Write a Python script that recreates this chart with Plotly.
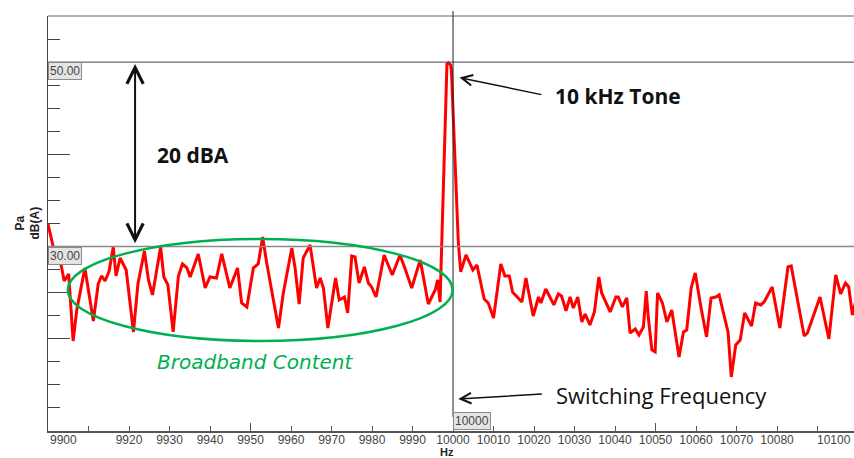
import plotly.graph_objects as go

# ---- data (vertices of the spectrum trace) ----
freq_hz = [9900.0, 9902.2, 9903.0, 9904.0, 9905.1, 9906.2, 9907.1, 9909.1, 9911.2, 9912.4,
           9913.2, 9914.1, 9915.1, 9916.1, 9916.8, 9917.8, 9919.3, 9921.1, 9922.2, 9923.8,
           9924.8, 9925.8, 9927.8, 9928.6, 9929.6, 9930.9, 9932.2, 9933.2, 9934.3, 9935.1,
           9937.1, 9938.8, 9940.0, 9941.6, 9942.9, 9944.9, 9946.8, 9947.8, 9949.1, 9950.7,
           9951.9, 9953.0, 9954.0, 9956.9, 9958.1, 9960.2, 9961.0, 9962.0, 9963.0, 9964.7,
           9966.3, 9967.2, 9968.0, 9969.1, 9971.0, 9971.9, 9973.2, 9974.0, 9975.0, 9975.8,
           9976.8, 9978.1, 9979.1, 9979.9, 9981.0, 9983.0, 9985.0, 9986.9, 9988.1, 9989.8,
           9991.9, 9992.7, 9993.9, 9995.6, 9996.2, 9996.8, 9997.2, 9998.5, 9998.9, 9999.4,
           9999.6, 10001.3, 10001.9, 10003.2, 10004.9, 10005.9, 10007.7, 10008.7, 10010.0, 10011.8,
           10012.8, 10013.9, 10014.7, 10017.0, 10018.0, 10019.8, 10021.1, 10021.7, 10022.9, 10024.9,
           10026.0, 10026.8, 10027.9, 10028.9, 10029.7, 10030.8, 10031.8, 10032.6, 10033.8, 10034.9,
           10036.0, 10036.7, 10038.8, 10040.2, 10040.8, 10041.8, 10042.9, 10043.7, 10045.0, 10045.9,
           10047.0, 10047.7, 10048.2, 10049.1, 10049.9, 10050.5, 10051.7, 10052.8, 10054.0, 10055.8,
           10056.9, 10057.7, 10058.8, 10059.8, 10061.2, 10062.6, 10063.7, 10064.9, 10065.7, 10066.7,
           10067.9, 10068.7, 10069.8, 10070.9, 10072.0, 10073.7, 10074.7, 10076.0, 10076.8, 10078.8,
           10080.7, 10082.7, 10083.5, 10086.7, 10087.5, 10090.6, 10092.8, 10094.5, 10095.7, 10096.9,
           10097.7, 10098.6, 10099.5]
level_dba = [32.45, 28.22, 28.55, 26.27, 27.03, 19.76, 23.12, 27.68, 21.93, 25.94,
             26.81, 26.27, 27.35, 29.96, 26.81, 28.76, 27.46, 20.74, 25.94, 29.52,
             26.38, 24.75, 29.96, 26.70, 25.84, 20.74, 26.81, 28.11, 27.68, 26.70,
             29.20, 25.51, 26.70, 26.59, 29.20, 25.51, 27.68, 23.88, 23.45, 27.68,
             28.11, 31.04, 28.22, 21.17, 24.97, 29.85, 27.68, 23.77, 28.76, 30.17,
             25.51, 26.59, 25.51, 21.17, 26.59, 24.21, 24.53, 22.80, 28.98, 28.87,
             26.05, 27.79, 26.05, 25.62, 24.53, 29.09, 26.92, 29.09, 27.68, 25.51,
             28.55, 26.59, 23.77, 25.29, 26.38, 23.99, 29.96, 49.80, 49.91, 49.70,
             49.15, 30.50, 27.25, 29.09, 27.46, 28.00, 24.32, 23.88, 22.26, 28.11,
             26.81, 26.81, 25.08, 23.99, 26.59, 22.47, 24.53, 23.88, 25.40, 23.67,
             24.86, 24.64, 23.02, 24.53, 23.34, 24.53, 21.82, 22.69, 21.50, 22.91,
             26.70, 24.97, 22.91, 24.53, 24.53, 23.45, 24.43, 20.63, 21.06, 20.41,
             21.28, 25.18, 22.36, 18.79, 18.57, 24.97, 23.88, 21.82, 23.12, 18.03,
             20.74, 20.95, 25.51, 27.14, 23.45, 20.20, 24.43, 24.53, 24.75, 22.80,
             20.74, 15.86, 19.33, 19.87, 22.80, 21.39, 23.88, 23.67, 23.99, 25.62,
             21.17, 27.79, 27.90, 20.30, 20.63, 24.53, 19.98, 26.92, 24.86, 26.05,
             25.62, 22.58, 24.20]

x_range = [9900, 10099]
y_range = [10, 55]
x_tick_vals = [9910, 9920, 9930, 9940, 9950, 9960, 9970, 9980, 9990, 10000,
               10010, 10020, 10030, 10040, 10050, 10060, 10070, 10080, 10090]
x_tick_text = ['', '9920', '9930', '9940', '9950', '9960', '9970', '9980', '9990', '10000',
               '10010', '10020', '10030', '10040', '10050', '10060', '10070', '10080', '']
x_long_ticks = [9950, 10050]
y_minor_ticks = [12.5, 15, 17.5, 22.5, 27.5, 30, 32.5, 35, 37.5, 42.5, 45, 47.5, 50, 52.5]
y_long_ticks = [20, 25, 40]
cursor_levels = [50.0, 30.0]
cursor_labels = ['50.00', '30.00']
cursor_freq = 10000
ellipse_x = [9904.9, 9999.9]
ellipse_y = [19.76, 30.83]
green = '#00B050'

tick_font = dict(family='Liberation Sans, Arial, sans-serif', size=12, color='#444')
txt_font = 'Open Sans, Noto Sans, sans-serif'

fig = go.Figure()
fig.add_trace(go.Scatter(x=freq_hz, y=level_dba, mode='lines',
                         line=dict(color='#ff0000', width=3),
                         showlegend=False, hoverinfo='skip'))
# cursor marker triangle at top
fig.add_trace(go.Scatter(x=[cursor_freq], y=[55.6], mode='markers',
                         marker=dict(symbol='triangle-down', size=7, color='#111'),
                         cliponaxis=False, showlegend=False, hoverinfo='skip'))
# helper trace to show long ticks axis
fig.add_trace(go.Scatter(x=[x_range[0]], y=[None], xaxis='x2', mode='lines',
                         showlegend=False, hoverinfo='skip'))

shapes = []
shapes.append(dict(type='line', xref='paper', yref='paper', x0=0, x1=1, y0=1, y1=1,
                   line=dict(color='#9a9a9a', width=1.5)))
shapes.append(dict(type='line', xref='paper', yref='y', x0=0, x1=1,
                   y0=cursor_levels[0], y1=cursor_levels[0], line=dict(color='#444', width=1)))
shapes.append(dict(type='line', xref='paper', yref='y', x0=0, x1=1,
                   y0=cursor_levels[1], y1=cursor_levels[1], line=dict(color='#8a8a8a', width=1.5)))
shapes.append(dict(type='line', xref='x', yref='paper', x0=cursor_freq, x1=cursor_freq,
                   y0=0.034, y1=1.012, line=dict(color='#222', width=1)))
shapes.append(dict(type='circle', xref='x', yref='y', x0=ellipse_x[0], x1=ellipse_x[1],
                   y0=ellipse_y[0], y1=ellipse_y[1], line=dict(color=green, width=2.5)))

annotations = []
box = dict(bgcolor='#e4e4e4', bordercolor='#8a8a8a', borderwidth=1, borderpad=1,
           font=tick_font, showarrow=False)
for lv, lab in zip(cursor_levels, cursor_labels):
    annotations.append(dict(text=lab, xref='paper', x=0, xanchor='left',
                            yref='y', y=lv, yanchor='top', **box))
annotations.append(dict(text=str(cursor_freq), xref='x', x=cursor_freq, xanchor='left',
                        yref='paper', y=0, yanchor='bottom', yshift=1, **box))
annotations.append(dict(text='9900', xref='paper', x=0, xanchor='left', yref='paper', y=0,
                        yanchor='top', yshift=0, showarrow=False, font=tick_font))
annotations.append(dict(text='10100', xref='paper', x=1, xanchor='right', xshift=-1,
                        yref='paper', y=0, yanchor='top', yshift=0, showarrow=False,
                        font=tick_font))
annotations.append(dict(text='<b>Hz</b>', xref='x', x=9998.5, yref='paper', y=0, yanchor='top',
                        yshift=-13, showarrow=False,
                        font=dict(family='Liberation Sans, Arial', size=11, color='#222')))
annotations.append(dict(text='<b>Pa<br>dB(A)</b>', xref='paper', x=0, xanchor='right', xshift=-4,
                        yref='paper', y=0.5, yanchor='middle', textangle=-90, showarrow=False,
                        font=dict(family='Liberation Sans, Arial', size=12, color='#222')))
annotations.append(dict(text='', x=9921.5, y=49.8, ax=9921.5, ay=30.2, xref='x', yref='y',
                        axref='x', ayref='y', showarrow=True, arrowhead=5, startarrowhead=5,
                        arrowside='end+start', arrowsize=1.6, startarrowsize=1.6,
                        arrowwidth=2, arrowcolor='#111', standoff=0, startstandoff=0))
annotations.append(dict(text='<b>20 dBA</b>', x=9935.8, y=39.93, xref='x', yref='y',
                        showarrow=False, font=dict(family=txt_font, size=21, color='#111')))
annotations.append(dict(text='', x=10001.6, y=48.32, ax=10022.2, ay=46.44, xref='x', yref='y',
                        axref='x', ayref='y', showarrow=True, arrowhead=5, arrowsize=1.4,
                        arrowwidth=1.5, arrowcolor='#111', standoff=0, startstandoff=0))
annotations.append(dict(text='<b>10 kHz Tone</b>', x=10024.7, y=46.33, xref='x', yref='y',
                        xanchor='left', showarrow=False,
                        font=dict(family=txt_font, size=21, color='#111')))
annotations.append(dict(text='', x=10001.3, y=13.47, ax=10022.3, ay=14.01, xref='x', yref='y',
                        axref='x', ayref='y', showarrow=True, arrowhead=5, arrowsize=1.4,
                        arrowwidth=1.5, arrowcolor='#111', standoff=0, startstandoff=0))
annotations.append(dict(text='Switching Frequency', x=10024.9, y=13.9, xref='x', yref='y',
                        xanchor='left', showarrow=False,
                        font=dict(family=txt_font, size=22, color='#111')))
annotations.append(dict(text='<i>Broadband Content</i>', x=9926.4, y=17.48, xref='x', yref='y',
                        xanchor='left', showarrow=False,
                        font=dict(family='DejaVu Sans, sans-serif', size=20, color=green)))

fig.update_layout(
    width=854, height=458,
    margin=dict(l=48, r=0, t=16, b=27, pad=0),
    paper_bgcolor='white', plot_bgcolor='white',
    showlegend=False,
    xaxis=dict(range=x_range, showgrid=False, zeroline=False, showline=True,
               linecolor='#555', linewidth=1.5, ticks='inside', ticklen=5, tickwidth=1,
               tickcolor='#555', tickmode='array', tickvals=x_tick_vals, ticktext=x_tick_text,
               tickfont=tick_font, ticklabelstandoff=-3, automargin=False),
    xaxis2=dict(range=x_range, overlaying='x', side='bottom', anchor='y', showgrid=False,
                zeroline=False, showline=False, ticks='inside', ticklen=8, tickwidth=1,
                tickcolor='#555', tickmode='array', tickvals=x_long_ticks,
                showticklabels=False),
    yaxis=dict(range=y_range, showgrid=False, zeroline=False, showline=True,
               linecolor='#444', linewidth=1, ticks='inside', ticklen=22, tickwidth=1,
               tickcolor='#444', tickmode='array', tickvals=y_long_ticks,
               showticklabels=False,
               minor=dict(tickmode='array', tickvals=y_minor_ticks, ticks='inside',
                          ticklen=12, tickcolor='#444', tickwidth=1, showgrid=False)),
    shapes=shapes,
    annotations=annotations,
)

fig.write_html('out.html', config={'displayModeBar': False},
               post_script="document.body.style.margin='0';")
